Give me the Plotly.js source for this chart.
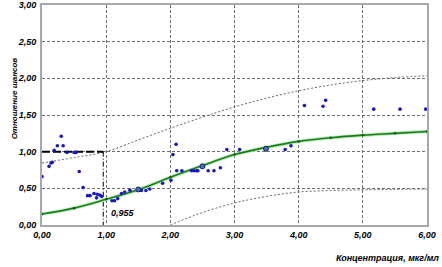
<!DOCTYPE html>
<html>
<head>
<meta charset="utf-8">
<script src="https://cdn.plot.ly/plotly-3.0.1.min.js"></script>
<style>html,body{margin:0;padding:0;background:#fff;}#chart{width:442px;height:267px;}</style>
</head>
<body>
<div id="chart"></div>
<script>
// Observed points (blue)
const obsX = [0.00,0.11,0.14,0.16,0.19,0.24,0.30,0.33,0.39,0.50,0.53,0.58,0.64,0.71,0.75,0.81,0.85,0.86,0.90,0.93,1.09,1.13,1.18,1.24,1.29,1.37,1.50,1.55,1.62,1.68,1.88,2.01,2.04,2.09,2.10,2.18,2.33,2.37,2.41,2.43,2.50,2.59,2.68,2.78,2.88,3.08,3.49,3.79,3.88,4.09,4.38,4.42,5.17,5.58,5.98];
const obsY = [0.66,0.80,0.845,0.855,1.02,1.08,1.21,1.08,0.99,0.99,0.99,0.73,0.51,0.40,0.40,0.43,0.37,0.42,0.41,0.39,0.33,0.33,0.36,0.43,0.45,0.475,0.485,0.47,0.47,0.49,0.57,0.61,0.96,1.10,0.74,0.74,0.74,0.74,0.74,0.74,0.80,0.74,0.74,0.78,1.03,1.03,1.04,1.03,1.08,1.63,1.62,1.70,1.58,1.58,1.58];
// Highlighted points
const hiX = [1.50,2.50,3.49];
const hiY = [0.485,0.80,1.04];
// Fitted curve (green)
const fitX = [0,0.5,1,1.5,2,2.5,3,3.5,4,4.5,5,5.5,6];
const fitY = [0.15,0.23,0.35,0.48,0.65,0.81,0.96,1.06,1.14,1.19,1.225,1.25,1.275];
// Confidence bands (dotted)
const upX = [0,0.5,1,1.5,2,2.5,3,3.5,4,4.5,5,5.5,6];
const upY = [0.845,0.92,1.0,1.16,1.32,1.47,1.61,1.73,1.83,1.91,1.97,2.01,2.035];
const loX = [2,2.5,3,3.5,4,4.5,5,5.5,6];
const loY = [0.0,0.17,0.30,0.39,0.45,0.47,0.48,0.485,0.49];
// Threshold
const thrX = 0.955, thrY = 1.0;
const thrLabel = "0,955";
const xTicks = [0,1,2,3,4,5,6];
const yTicks = [0,0.5,1,1.5,2,2.5,3];
const xTitle = "Концентрация, мкг/мл";
const yTitle = "Отношение шансов";

const fnt = {family:"Liberation Sans, Arial, sans-serif", size:9, color:"#000", weight:"bold", style:"italic"};

const traces = [
  {x:upX, y:upY, mode:"lines", line:{color:"#666", width:1, dash:"2px,2px", shape:"spline"}, hoverinfo:"skip"},
  {x:loX, y:loY, mode:"lines", line:{color:"#666", width:1, dash:"2px,2px", shape:"spline"}, hoverinfo:"skip"},
  {x:[0,thrX], y:[thrY,thrY], mode:"lines", line:{color:"#000", width:2, dash:"8px,3px"}},
  {x:[thrX,thrX], y:[thrY,0], mode:"lines", line:{color:"#000", width:1, dash:"5px,2px,1px,2px"}},
  {x:fitX, y:fitY, mode:"lines", line:{color:"#b4eeb4", width:3.5, shape:"spline"}},
  {x:fitX, y:fitY, mode:"lines+markers", line:{color:"#1d7d1d", width:1.6, shape:"spline"}, marker:{color:"#0d5a0d", size:2.5}},
  {x:obsX, y:obsY, mode:"markers", marker:{color:"#1818c0", size:3.6}},
  {x:hiX, y:hiY, mode:"markers", marker:{color:"#4a6ad0", size:5, line:{color:"#102050", width:1}}}
];

const layout = {
  width:442, height:267,
  margin:{l:42, r:15, t:5, b:42},
  paper_bgcolor:"#fff", plot_bgcolor:"#fff",
  showlegend:false,
  separators:", ",
  font:fnt,
  xaxis:{range:[0,6.0001], tickvals:xTicks, tickformat:".2f", showgrid:true, gridcolor:"#707070", griddash:"3px,2px", gridwidth:1,
         zeroline:false, showline:true, mirror:true, linecolor:"#a8a8a8", linewidth:2, ticks:"", tickfont:fnt, fixedrange:true},
  yaxis:{range:[0,3.0001], tickvals:yTicks, tickformat:".2f", showgrid:true, gridcolor:"#707070", griddash:"3px,2px", gridwidth:1,
         zeroline:false, showline:true, mirror:true, linecolor:"#a8a8a8", linewidth:2, ticks:"", tickfont:fnt, ticklabelstandoff:2,
         fixedrange:true},
  annotations:[
    {text:thrLabel, x:1.05, y:0.17, xref:"x", yref:"y", showarrow:false, xanchor:"left", font:{family:fnt.family, size:9, style:"italic", color:"#000"}},
    {text:xTitle, x:1, y:0, xref:"paper", yref:"paper", xanchor:"right", yanchor:"top", yshift:-26, xshift:14, showarrow:false, font:fnt},
    {text:yTitle, x:0, y:1.72, xref:"paper", yref:"y", xshift:-34, textangle:-90, showarrow:false, font:Object.assign({}, fnt, {size:8})}
  ]
};
Plotly.newPlot("chart", traces, layout, {staticPlot:true, displayModeBar:false});
</script>
</body>
</html>
